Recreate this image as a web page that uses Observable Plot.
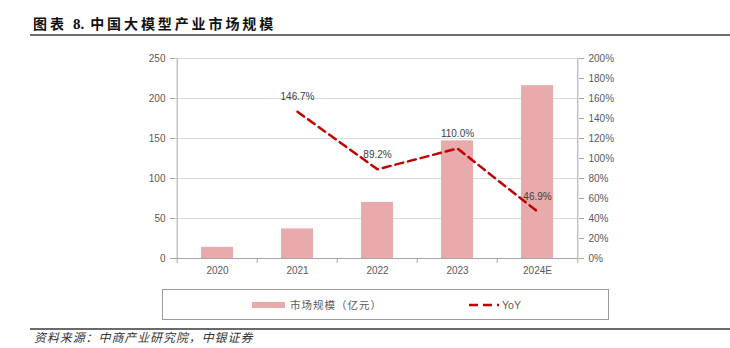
<!DOCTYPE html>
<html><head><meta charset="utf-8">
<script src="https://cdn.jsdelivr.net/npm/d3@7"></script>
<script src="https://cdn.jsdelivr.net/npm/@observablehq/plot@0.6"></script>
<style>
body{margin:0;background:#fff;width:730px;height:348px;position:relative;overflow:hidden;font-family:"Liberation Sans",Arial,sans-serif}
#title{position:absolute;left:33px;top:14px;font-family:"Noto Sans CJK SC";font-weight:700;font-size:14px;line-height:18px;letter-spacing:2.9px;color:#111;white-space:nowrap}
#title .num{font-family:"Liberation Serif";font-size:15px;letter-spacing:0}
.hr{position:absolute;left:30px;width:700px;height:2px;background:#6b6b6b}
#chart{position:absolute;left:0;top:40px}
#legend{position:absolute;left:162px;top:289px;width:445px;height:29px;border:1px solid #9a9a9a;box-sizing:content-box}
.lg{position:absolute;top:0;height:29px;display:flex;align-items:center;font-size:10.5px;color:#595959;white-space:nowrap}
#source{position:absolute;left:34px;top:329px;font-family:"Noto Sans CJK SC";font-style:italic;font-size:12px;line-height:16px;letter-spacing:0.9px;color:#333;white-space:nowrap}
</style></head><body>
<div id="title">图表 <span class="num">8.</span> 中国大模型产业市场规模</div>
<div class="hr" style="top:34px"></div>
<div id="chart"></div>
<div id="legend">
  <div class="lg" style="left:89px"><svg width="33" height="8" style="margin-right:5px"><rect x="0" y="1" width="33" height="6" fill="#E8AAAA"/></svg><span style="font-family:'Noto Sans CJK SC';letter-spacing:1px">市场规模（亿元）</span></div>
  <div class="lg" style="left:306px"><svg width="30" height="8" style="margin-right:3px"><line x1="0" y1="4" x2="30" y2="4" stroke="#C00000" stroke-width="2.5" stroke-dasharray="9,5,9,5,2"/></svg><span>YoY</span></div>
</div>
<div class="hr" style="top:328px"></div>
<div id="source">资料来源：中商产业研究院，中银证券</div>
<script>
const years = ["2020", "2021", "2022", "2023", "2024E"];
const marketSize = [14, 37, 70, 147, 216];
const yoyYears = ["2021", "2022", "2023", "2024E"];
const yoyValues = [146.7, 89.2, 110.0, 46.9];
const leftTicks = [0, 50, 100, 150, 200, 250];
const rightTicks = [0, 20, 40, 60, 80, 100, 120, 140, 160, 180, 200];
const leftMax = 250, rightMax = 200;
const k = leftMax / rightMax;

const bars = years.map((y, i) => ({year: y, value: marketSize[i]}));
const yoy = yoyYears.map((y, i) => ({year: y, yoy: yoyValues[i], ys: yoyValues[i] * k}));

const W = 730, H = 240, mL = 175, mR = 152;
const step = (W - mL - mR) / years.length;
const axisGray = "#A6A6A6", textGray = "#595959";

const chart = Plot.plot({
  width: W, height: H,
  marginTop: 18, marginBottom: 22, marginLeft: mL, marginRight: mR,
  style: {fontFamily: "Liberation Sans, Arial, sans-serif", fontSize: "10px", background: "white", overflow: "visible"},
  x: {type: "band", domain: years, padding: 0, label: null},
  y: {domain: [0, leftMax], label: null},
  marks: [
    Plot.ruleY(leftTicks.filter(d => d > 0), {stroke: "#D9D9D9", strokeWidth: 1}),
    Plot.barY(bars, {x: "year", y: "value", fill: "#E8AAAA", insetLeft: 24, insetRight: 24}),
    Plot.ruleY([0], {stroke: axisGray}),
    Plot.ruleX(years, {dx: -step / 2, y1: -6, y2: 0, stroke: axisGray}),
    Plot.ruleX([years[0]], {dx: -step / 2, y1: 0, y2: leftMax, stroke: axisGray}),
    Plot.ruleX([years[years.length - 1]], {dx: step / 2, y1: -6, y2: leftMax, stroke: axisGray}),
    Plot.axisY(leftTicks, {anchor: "left", tickSize: 5, tickPadding: 5, stroke: axisGray, fill: textGray, label: null}),
    Plot.axisY(rightTicks.map(d => d * k), {anchor: "right", tickSize: 5, tickPadding: 5, stroke: axisGray, fill: textGray, label: null, tickFormat: d => Math.round(d / k) + "%"}),
    Plot.axisX({tickSize: 0, tickPadding: 8, fill: textGray, label: null}),
    Plot.line(yoy, {x: "year", y: "ys", stroke: "#C00000", strokeWidth: 2.5, strokeDasharray: "8,5"}),
    Plot.text(yoy, {x: "year", y: "ys", text: d => d.yoy.toFixed(1) + "%", dy: -15, fill: "#404040", fontSize: 10})
  ]
});
document.getElementById("chart").appendChild(chart);
</script>
</body></html>
